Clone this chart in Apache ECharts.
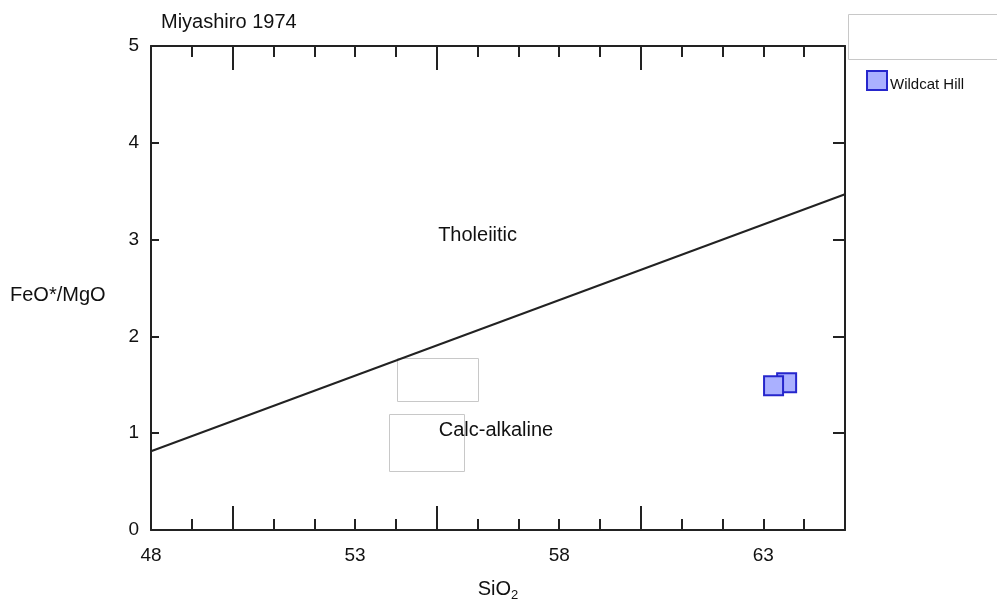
<!DOCTYPE html>
<html>
<head>
<meta charset="utf-8">
<script src="https://cdn.jsdelivr.net/npm/echarts@6/dist/echarts.min.js"></script>
<style>
  html, body { margin: 0; padding: 0; background: #fff; }
  #chart { width: 997px; height: 607px; }
</style>
</head>
<body>
<div id="chart"></div>
<script>
// x range and tick marks
var xMin = 48, xMax = 65;
var xLabelValues = [48, 53, 58, 63];
var xLongTicks = [50, 55, 60];
var yMin = 0, yMax = 5;

// Miyashiro (1974) dividing line, end points
var lineX = [48, 65];
var lineY = [0.813, 3.468];

// samples (Wildcat Hill)
var sampleX = [63.57, 63.25];
var sampleY = [1.52, 1.49];

// field names
var fieldNames = ['Tholeiitic', 'Calc-alkaline'];
var fieldX = [56.0, 56.45];
var fieldY = [3.04, 1.03];

var font = 'Liberation Sans, Arial, sans-serif';
var ink = '#222';

var chart = echarts.init(document.getElementById('chart'));

function xAxisBase(pos, long) {
  return {
    type: 'value', position: pos, min: xMin, max: xMax, interval: 1,
    axisLine: { show: !long, onZero: false, lineStyle: { color: ink, width: 2 } },
    splitLine: { show: false },
    axisTick: long
      ? { inside: true, length: 24, customValues: xLongTicks, lineStyle: { color: ink, width: 2 } }
      : { inside: true, length: 11, lineStyle: { color: ink, width: 2 } },
    axisLabel: { show: false }
  };
}

var bottomAxis = xAxisBase('bottom', false);
bottomAxis.axisLabel = {
  show: true, customValues: xLabelValues, margin: 16,
  color: '#111', fontSize: 19, fontFamily: font
};
bottomAxis.name = 'SiO{sub|2}';
bottomAxis.nameLocation = 'middle';
bottomAxis.nameGap = 47;
bottomAxis.nameTextStyle = {
  color: '#111', fontSize: 20, fontFamily: font,
  rich: { sub: { fontSize: 13, verticalAlign: 'bottom', padding: [12, 0, 0, 0], fontFamily: font, color: '#111' } }
};

var option = {
  animation: false,
  title: {
    text: 'Miyashiro 1974', left: 156, top: 7,
    textStyle: { color: '#111', fontSize: 20, fontWeight: 'normal', fontFamily: font }
  },
  legend: {
    left: 866, top: 70, orient: 'vertical', padding: 0,
    itemWidth: 20, itemHeight: 19, itemGap: 4, icon: 'rect',
    formatter: '{t|{name}}',
    textStyle: {
      color: '#111', fontSize: 15, fontFamily: font,
      rich: { t: { color: '#111', fontSize: 15, fontFamily: font, padding: [8, 0, 0, -2] } }
    },
    data: ['Wildcat Hill']
  },
  grid: { left: 151, right: 152, top: 46, bottom: 76, containLabel: false },
  xAxis: [
    bottomAxis,
    xAxisBase('bottom', true),
    xAxisBase('top', false),
    xAxisBase('top', true)
  ],
  yAxis: [
    {
      type: 'value', position: 'left', min: yMin, max: yMax, interval: 1,
      axisLine: { show: true, onZero: false, lineStyle: { color: ink, width: 2 } },
      splitLine: { show: false },
      axisTick: { inside: true, length: 8, lineStyle: { color: ink, width: 2 } },
      axisLabel: { margin: 12, color: '#111', fontSize: 19, fontFamily: font, padding: [5, 0, 0, 0] }
    },
    {
      type: 'value', position: 'right', min: yMin, max: yMax, interval: 1,
      axisLine: { show: true, onZero: false, lineStyle: { color: ink, width: 2 } },
      splitLine: { show: false },
      axisTick: { inside: true, length: 12, lineStyle: { color: ink, width: 2 } },
      axisLabel: { show: false }
    }
  ],
  graphic: [
    { type: 'text', left: 10, top: 285, style: { text: 'FeO*/MgO', fill: '#111', fontSize: 20, fontFamily: font } },
    { type: 'rect', shape: { x: 848.5, y: 14.5, width: 150, height: 45 }, style: { fill: 'none', stroke: '#c8c8c8', lineWidth: 1 } },
    { type: 'rect', shape: { x: 397.5, y: 358.5, width: 81, height: 43 }, style: { fill: 'none', stroke: '#c8c8c8', lineWidth: 1 } },
    { type: 'rect', shape: { x: 389.5, y: 414.5, width: 75, height: 57 }, style: { fill: 'none', stroke: '#c8c8c8', lineWidth: 1 } }
  ],
  series: [
    {
      type: 'line', name: 'Miyashiro',
      data: lineX.map(function (x, i) { return [x, lineY[i]]; }),
      showSymbol: false, symbol: 'none',
      lineStyle: { color: ink, width: 2 },
      z: 3
    },
    {
      type: 'scatter', name: 'fields',
      data: fieldX.map(function (x, i) { return { value: [x, fieldY[i]], name: fieldNames[i] }; }),
      symbolSize: 0, silent: true,
      itemStyle: { opacity: 1 },
      label: {
        show: true, position: 'inside', formatter: '{b}',
        color: '#111', fontSize: 20, fontFamily: font
      },
      z: 4
    },
    {
      type: 'scatter', name: 'Wildcat Hill',
      data: sampleX.map(function (x, i) { return [x, sampleY[i]]; }),
      symbol: 'rect', symbolSize: 19,
      itemStyle: { color: '#aab0ff', borderColor: '#2626cc', borderWidth: 2, opacity: 1 },
      z: 5
    }
  ]
};

chart.setOption(option);
</script>
</body>
</html>
